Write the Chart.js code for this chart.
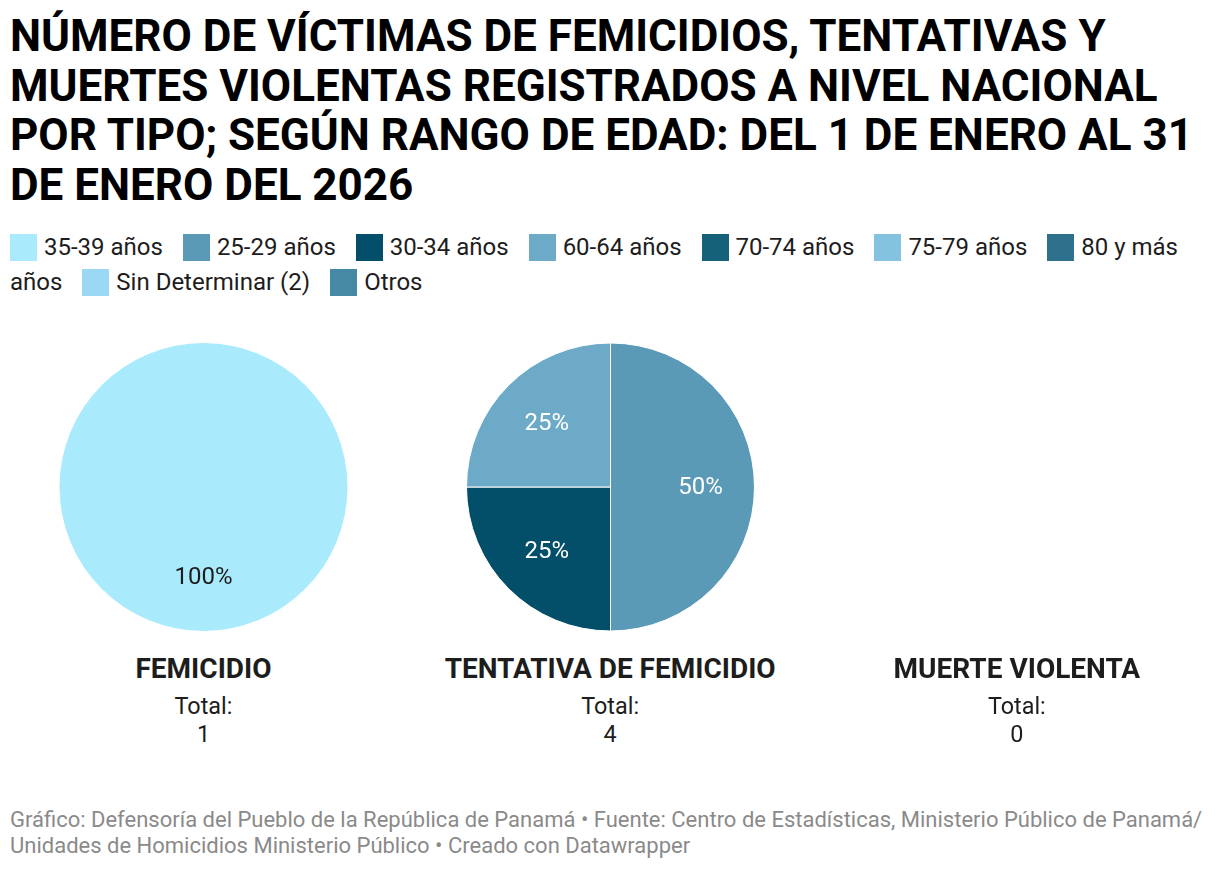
<!DOCTYPE html>
<html>
<head>
<meta charset="utf-8">
<script src="https://cdn.jsdelivr.net/npm/chart.js@4"></script>
<style>
  html, body { margin: 0; padding: 0; background: #fff; }
  body { width: 1220px; height: 870px; position: relative; font-family: Roboto, "Noto Sans", sans-serif; color: #1d1d1d; overflow: hidden; }
  #title { position: absolute; left: 10px; top: 12px; width: 1200px; font-size: 44px; font-weight: 700; line-height: 49.5px; color: #000; }
  #legend { position: absolute; left: 10px; top: 230px; width: 1200px; font-size: 24px; line-height: 35px; color: #1d1d1d; }
  .li { display: inline; margin-right: 14px; }
  .sw { display: inline-block; width: 27px; height: 27px; vertical-align: -6px; margin-right: 7px; }
  .col { position: absolute; top: 342px; width: 407px; height: 290px; }
  .col canvas { display: block; }
  .lab { position: absolute; width: 407px; text-align: center; }
  .lab .t { position: absolute; top: 652px; width: 100%; font-size: 28px; font-weight: 700; color: #1d1d1d; }
  .lab .s { position: absolute; top: 692px; width: 100%; font-size: 23.4px; line-height: 28px; color: #1d1d1d; }
  #footer { position: absolute; left: 10px; top: 807px; width: 1210px; font-size: 22px; line-height: 26px; color: #8a8a8a; white-space: nowrap; }
</style>
</head>
<body>
<div id="title">NÚMERO DE VÍCTIMAS DE FEMICIDIOS, TENTATIVAS Y MUERTES VIOLENTAS REGISTRADOS A NIVEL NACIONAL POR TIPO; SEGÚN RANGO DE EDAD: DEL 1 DE ENERO AL 31 DE ENERO DEL 2026</div>
<div id="legend"></div>
<div id="charts"></div>
<div id="footer">Gráfico: Defensoría del Pueblo de la República de Panamá • Fuente: Centro de Estadísticas, Ministerio Público de Panamá/<br>Unidades de Homicidios Ministerio Público • Creado con Datawrapper</div>
<script>
// ---- DATA ----
const categories = ["35-39 años", "25-29 años", "30-34 años", "60-64 años", "70-74 años", "75-79 años", "80 y más años", "Sin Determinar (2)", "Otros"];
const femicidio = [1, 0, 0, 0, 0, 0, 0, 0, 0];
const tentativa = [0, 2, 1, 1, 0, 0, 0, 0, 0];
const muerteViolenta = [0, 0, 0, 0, 0, 0, 0, 0, 0];
const panelTitles = ["FEMICIDIO", "TENTATIVA DE FEMICIDIO", "MUERTE VIOLENTA"];
const panelTotals = [1, 4, 0];
// ---- STYLE ----
const colors = ["#a9ebfc", "#5b9ab7", "#034f69", "#6caac8", "#156179", "#83c3e0", "#2f718d", "#9bd8f3", "#4689a5"];
const labelColors = ["#1d1d1d", "#ffffff", "#ffffff", "#ffffff", "#ffffff", "#1d1d1d", "#ffffff", "#1d1d1d", "#ffffff"];

// legend
const lg = document.getElementById('legend');
categories.forEach((c, i) => {
  const s = document.createElement('span');
  s.className = 'li';
  s.innerHTML = '<span class="sw" style="background:' + colors[i] + '"></span>' + c;
  lg.appendChild(s);
  lg.appendChild(document.createTextNode(' '));
});

const pctLabels = {
  id: 'pctLabels',
  afterDatasetsDraw(chart) {
    const ctx = chart.ctx;
    const ds = chart.data.datasets[0];
    const total = ds.data.reduce((a, b) => a + b, 0);
    if (!total) return;
    const meta = chart.getDatasetMeta(0);
    ctx.save();
    ctx.font = '24px Roboto, sans-serif';
    ctx.textAlign = 'center';
    ctx.textBaseline = 'middle';
    meta.data.forEach((arc, i) => {
      const v = ds.data[i];
      if (!v) return;
      const p = arc.getProps(['x', 'y', 'startAngle', 'endAngle', 'outerRadius'], true);
      const mid = (p.startAngle + p.endAngle) / 2;
      const r = p.outerRadius * 0.625;
      ctx.fillStyle = labelColors[i];
      ctx.fillText(Math.round(v / total * 100) + '%', p.x + Math.cos(mid) * r, p.y + Math.sin(mid) * r + 1);
    });
    ctx.restore();
  }
};

const series = [femicidio, tentativa, muerteViolenta];
const host = document.getElementById('charts');
series.forEach((vals, k) => {
  const left = k * 406.67;
  const div = document.createElement('div');
  div.className = 'col';
  div.style.left = left + 'px';
  const cv = document.createElement('canvas');
  div.appendChild(cv);
  host.appendChild(div);
  const lab = document.createElement('div');
  lab.className = 'lab';
  lab.style.left = left + 'px';
  lab.innerHTML = '<div class="t">' + panelTitles[k] + '</div><div class="s">Total:<br>' + panelTotals[k] + '</div>';
  host.appendChild(lab);
  const nonZero = vals.filter(v => v > 0).length;
  new Chart(cv, {
    type: 'pie',
    data: { labels: categories, datasets: [{ data: vals, backgroundColor: colors, borderColor: '#ffffff', borderWidth: nonZero > 1 ? 1 : 0, radius: 144 }] },
    options: {
      responsive: true, maintainAspectRatio: false, animation: false,
      layout: { padding: 0 },
      plugins: { legend: { display: false }, tooltip: { enabled: false } }
    },
    plugins: [pctLabels]
  });
});
</script>
</body>
</html>
